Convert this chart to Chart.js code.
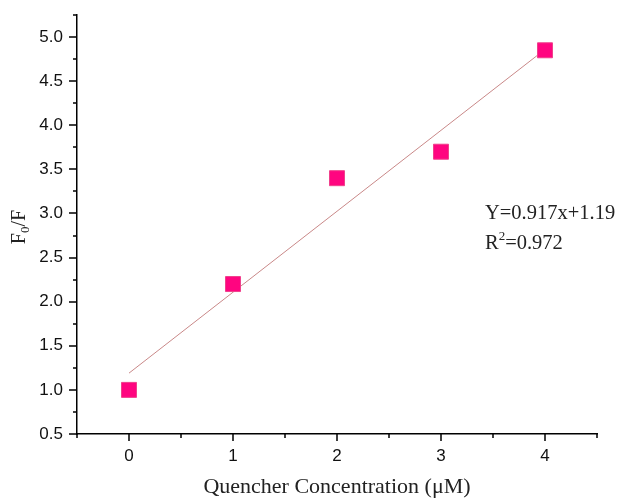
<!DOCTYPE html>
<html>
<head>
<meta charset="utf-8">
<script src="https://cdn.jsdelivr.net/npm/chart.js@4/dist/chart.umd.min.js"></script>
<style>
html,body{margin:0;padding:0;background:#fff;}
#wrap{width:624px;height:500px;}
</style>
</head>
<body>
<div id="wrap"><canvas id="c" width="624" height="500"></canvas></div>
<script>
// Data
const concentrations = [0, 1, 2, 3, 4];
const f0OverF = [1.0, 2.2, 3.4, 3.7, 4.85];
const fitX = [0, 4];
const fitY = [1.19, 4.86];
const xTickValues = [0, 1, 2, 3, 4];
const yTickValues = [0.5, 1.0, 1.5, 2.0, 2.5, 3.0, 3.5, 4.0, 4.5, 5.0];
const xMinorValues = [-0.5, 0.5, 1.5, 2.5, 3.5, 4.5];
const yMinorValues = [0.75, 1.25, 1.75, 2.25, 2.75, 3.25, 3.75, 4.25, 4.75, 5.25];
const equationText = 'Y=0.917x+1.19';
const r2Value = '=0.972';
const xTitle = 'Quencher Concentration (\u03BCM)';

const tickPlugin = {
  id: 'ticksAndText',
  afterDraw(chart) {
    const ctx = chart.ctx;
    const xs = chart.scales.x, ys = chart.scales.y;
    const axisX = xs.left, axisY = ys.bottom;
    ctx.save();
    ctx.strokeStyle = '#000';
    ctx.lineWidth = 1.5;
    ctx.beginPath();
    xTickValues.forEach(v => { const p = Math.round(xs.getPixelForValue(v)); ctx.moveTo(p, axisY); ctx.lineTo(p, axisY + 7); });
    xMinorValues.forEach(v => { const p = Math.round(xs.getPixelForValue(v)); ctx.moveTo(p, axisY); ctx.lineTo(p, axisY + 4); });
    yTickValues.forEach(v => { const p = Math.round(ys.getPixelForValue(v)); ctx.moveTo(axisX, p); ctx.lineTo(axisX - 8, p); });
    yMinorValues.forEach(v => { const p = Math.round(ys.getPixelForValue(v)); ctx.moveTo(axisX, p); ctx.lineTo(axisX - 4, p); });
    ctx.stroke();

    // equation text
    ctx.fillStyle = '#222';
    ctx.textBaseline = 'alphabetic';
    ctx.textAlign = 'left';
    ctx.font = '20.5px "Liberation Serif", "Times New Roman", serif';
    ctx.fillText(equationText, 485, 219);
    ctx.fillText('R', 485, 249);
    const rw = ctx.measureText('R').width;
    ctx.font = '13px "Liberation Serif", serif';
    ctx.fillText('2', 485 + rw, 240);
    const sw = ctx.measureText('2').width;
    ctx.font = '20.5px "Liberation Serif", serif';
    ctx.fillText(r2Value, 485 + rw + sw, 249);

    // y title with subscript
    ctx.translate(25, 227);
    ctx.rotate(-Math.PI / 2);
    ctx.font = '20px "Liberation Serif", serif';
    const fw = ctx.measureText('F').width;
    ctx.font = '13px "Liberation Serif", serif';
    const zw = ctx.measureText('0').width;
    ctx.font = '20px "Liberation Serif", serif';
    const restW = ctx.measureText('/F').width;
    let x0 = -(fw + zw + restW) / 2;
    ctx.fillText('F', x0, 0);
    ctx.font = '13px "Liberation Serif", serif';
    ctx.fillText('0', x0 + fw, 4);
    ctx.font = '20px "Liberation Serif", serif';
    ctx.fillText('/F', x0 + fw + zw, 0);
    ctx.restore();
  }
};

new Chart(document.getElementById('c'), {
  type: 'scatter',
  data: {
    datasets: [
      {
        type: 'line',
        data: fitX.map((x, i) => ({ x: x, y: fitY[i] })),
        borderColor: '#c98888',
        borderWidth: 1,
        pointRadius: 0,
        fill: false,
        order: 2
      },
      {
        data: concentrations.map((x, i) => ({ x: x, y: f0OverF[i] })),
        pointStyle: 'rect',
        pointRadius: 10.6,
        backgroundColor: '#ff0580',
        borderColor: '#f0408c',
        borderWidth: 1,
        order: 1
      }
    ]
  },
  options: {
    responsive: false,
    animation: false,
    layout: { padding: { top: 15, right: 27, left: 0, bottom: 0 } },
    plugins: { legend: { display: false }, tooltip: { enabled: false } },
    scales: {
      x: {
        type: 'linear',
        min: -0.5, max: 4.5,
        afterBuildTicks: s => { s.ticks = xTickValues.map(v => ({ value: v })); },
        afterFit: s => { s.height = 66; s.paddingLeft = 0; s.paddingRight = 0; },
        grid: { display: true, drawOnChartArea: false, drawTicks: false, color: 'rgba(0,0,0,0)' },
        border: { display: true, color: '#000', width: 1.5 },
        ticks: {
          padding: 12,
          color: '#111',
          font: { family: '"Liberation Sans", Arial, sans-serif', size: 17 },
          callback: v => String(v)
        },
        title: {
          display: true,
          text: xTitle,
          color: '#222',
          font: { family: '"Liberation Serif", "Times New Roman", serif', size: 22 },
          padding: { top: 4, bottom: 0 }
        }
      },
      y: {
        type: 'linear',
        min: 0.5, max: 5.25,
        afterBuildTicks: s => { s.ticks = yTickValues.map(v => ({ value: v })); },
        afterFit: s => { s.width = 77; s.paddingTop = 0; s.paddingBottom = 0; },
        grid: { display: true, drawOnChartArea: false, drawTicks: false, color: 'rgba(0,0,0,0)' },
        border: { display: true, color: '#000', width: 1.5 },
        ticks: {
          padding: 14,
          color: '#111',
          font: { family: '"Liberation Sans", Arial, sans-serif', size: 17 },
          callback: v => Number(v).toFixed(1)
        }
      }
    }
  },
  plugins: [tickPlugin]
});
</script>
</body>
</html>
